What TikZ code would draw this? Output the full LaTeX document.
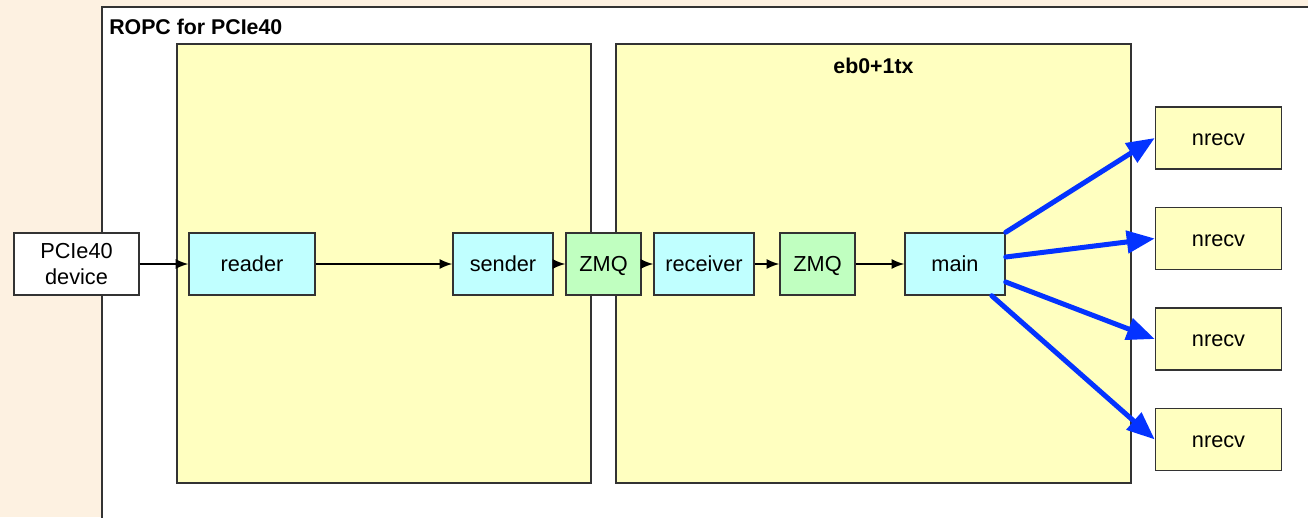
\documentclass[tikz,border=0pt]{standalone}
\usepackage{fontspec}
\setmainfont{Liberation Sans}
\usetikzlibrary{arrows.meta}
\definecolor{peach}{HTML}{FDF1E1}
\definecolor{lyellow}{HTML}{FFFFC0}
\definecolor{lcyan}{HTML}{C0FFFF}
\definecolor{lgreen}{HTML}{C0FFC0}
\definecolor{abblue}{HTML}{0433FF}
\definecolor{edge}{HTML}{333333}
\begin{document}
\begin{tikzpicture}[x=0.75pt,y=-0.75pt,
  every node/.style={font=\fontsize{16.3pt}{18.8pt}\selectfont},
  frame/.style={draw=edge,line width=1.1pt},
  box/.style={frame,minimum height=46.5pt,inner sep=0pt,align=center},
  one/.style={text height=11.7pt,text depth=0pt},
  whitebox/.style={box,fill=white,minimum width=93.75pt},
  cyanbox/.style={box,one,fill=lcyan},
  greenbox/.style={box,one,fill=lgreen,minimum width=56.25pt},
  nbox/.style={box,one,fill=lyellow,minimum width=94.5pt},
  title/.style={font=\fontsize{16pt}{18.5pt}\selectfont\bfseries,inner sep=0pt},
  flow/.style={line width=1.1pt,-{Latex[length=9.5pt,width=7.5pt]}},
  fan/.style={abblue,line width=3.75pt,line cap=round,-{Triangle[length=21pt,width=16.5pt]}}]
\useasboundingbox (0,0) rectangle (1308,517);
\clip (0,0) rectangle (1308,517);
\fill[peach] (0,0) rectangle (1308,517);
\draw[frame,fill=white] (102,7) rectangle (1330,540);
\node[title,anchor=west] (ropc) at (109,27) {ROPC for PCIe40};
\draw[frame,fill=lyellow] (177,44) rectangle (591,483);
\draw[frame,fill=lyellow] (616,44) rectangle (1131,483);
\node[title] (eb) at (873.5,66) {eb0+1tx};

\node[whitebox] (dev) at (76.5,264) {PCIe40\\device};
\node[cyanbox,minimum width=94.5pt] (reader) at (252,264) {reader};
\node[cyanbox,minimum width=75pt] (sender) at (503,264) {sender};
\node[greenbox] (zmq1) at (603.5,264) {ZMQ};
\node[cyanbox,minimum width=75pt] (receiver) at (704,264) {receiver};
\node[greenbox] (zmq2) at (817.5,264) {ZMQ};
\node[cyanbox,minimum width=75pt] (main) at (955,264) {main};

\node[nbox] (n1) at (1218.5,138) {nrecv};
\node[nbox] (n2) at (1218.5,238.5) {nrecv};
\node[nbox] (n3) at (1218.5,339) {nrecv};
\node[nbox] (n4) at (1218.5,439.5) {nrecv};

\draw[flow] (dev) -- (reader);
\draw[flow] (reader) -- (sender);
\draw[flow] (sender) -- (zmq1);
\draw[flow] (zmq1) -- (receiver);
\draw[flow] (receiver) -- (zmq2);
\draw[flow] (zmq2) -- (main);

\draw[fan] (main.north east) -- (n1.west);
\draw[fan] ([yshift=5.25pt]main.east) -- (n2.west);
\draw[fan] ([yshift=-13.5pt]main.east) -- (n3.west);
\draw[fan] ([xshift=-10.5pt]main.south east) -- (n4.west);
\end{tikzpicture}
\end{document}
